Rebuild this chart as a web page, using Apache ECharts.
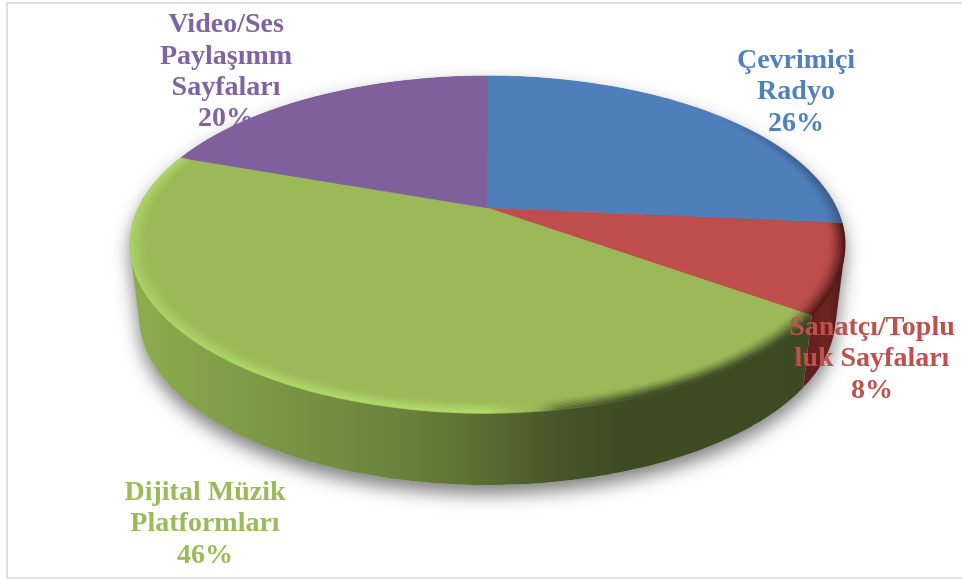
<!DOCTYPE html>
<html><head><meta charset="utf-8">
<style>html,body{margin:0;padding:0;background:#fff}#c{width:962px;height:580px}</style>
<script src="https://cdn.jsdelivr.net/npm/echarts@6/dist/echarts.min.js"></script>
</head><body><div id="c"></div>
<script>
const categories = ['Çevrimiçi Radyo', 'Sanatçı/Topluluk Sayfaları', 'Dijital Müzik Platformları', 'Video/Ses Paylaşımm Sayfaları'];
const values = [26.49, 8.45, 45.5, 19.56];
const labelLines = [['Çevrimiçi', 'Radyo'], ['Sanatçı/Toplu', 'luk Sayfaları'], ['Dijital Müzik', 'Platformları'], ['Video/Ses', 'Paylaşımm', 'Sayfaları']];
const topColors = ['#4f7fba', '#bd4e4b', '#9bb958', '#7f609d'];
const textColors = ['#4f81bd', '#c0504d', '#9bbb59', '#8064a2'];
const labelCenters = [[796, 92], [872, 359], [205, 524], [226, 72]];

// projection of the tilted disc
const CX = 487.5, P = 0.2166;
const TOP = {ay: 208, a: 349, b: 160.6};
const BOTTOM = {ay: 280, a: 340, b: 160.6};
function proj(deg, r, disc) {
  const t = deg * Math.PI / 180, u = r * Math.sin(t), v = r * Math.cos(t), w = 1 + P * v;
  return [CX + disc.a * u / w, disc.ay - disc.b * v / w];
}
function arc(d0, d1, r, disc) {
  const pts = [], n = Math.max(2, Math.ceil(Math.abs(d1 - d0)));
  for (let i = 0; i <= n; i++) pts.push(proj(d0 + (d1 - d0) * i / n, r, disc));
  return pts;
}
function hull(points) {
  const p = points.slice().sort((a, b) => a[0] - b[0] || a[1] - b[1]);
  const cross = (o, a, b) => (a[0] - o[0]) * (b[1] - o[1]) - (a[1] - o[1]) * (b[0] - o[0]);
  const half = list => {
    const h = [];
    for (const q of list) {
      while (h.length > 1 && cross(h[h.length - 2], h[h.length - 1], q) <= 0) h.pop();
      h.push(q);
    }
    h.pop();
    return h;
  };
  return half(p).concat(half(p.slice().reverse()));
}
function hGrad(x0, x1, stops) {
  return new echarts.graphic.LinearGradient(x0, 0, x1, 0, stops.map(s => ({offset: s[0], color: s[1]})), true);
}
const sideFill = [
  () => '#3a5f8c',
  () => hGrad(800, 845, [[0, '#5c1d1b'], [0.6, '#6e2422'], [1, '#4a1513']]),
  () => hGrad(134, 810, [[0, '#8dac4e'], [0.17, '#7d9a46'], [0.38, '#6b843d'], [0.5, '#5c7133'], [0.63, '#465528'], [0.72, '#3f4c23'], [1, '#3d4922']]),
  () => '#5f4878'
];
const rimStops = [
  [[0, 'rgba(40,70,110,0)'], [0.82, 'rgba(40,70,110,0)'], [1, 'rgba(40,60,90,0.45)']],
  [[0, 'rgba(90,25,25,0.1)'], [0.6, 'rgba(90,25,25,0.55)'], [1, 'rgba(70,20,20,0.9)']],
  [[0, 'rgba(175,218,105,0.7)'], [0.5, 'rgba(180,222,108,0.8)'], [0.56, 'rgba(160,190,90,0.25)'], [0.6, 'rgba(61,73,34,0.45)'], [0.72, 'rgba(61,73,34,0.9)'], [1, 'rgba(61,73,34,0.9)']],
  [[0, 'rgba(0,0,0,0)'], [1, 'rgba(0,0,0,0)']]
];
const total = values.reduce((a, b) => a + b, 0);

function renderItem(params, api) {
  const i = params.dataIndex;
  const before = values.slice(0, i).reduce((a, b) => a + b, 0);
  const d0 = before / total * 360, d1 = d0 + api.value(0) / total * 360;
  const children = [];
  if (i === 0) {
    children.push({type: 'polygon', z2: 0, shape: {points: hull(arc(0, 360, 1, TOP).concat(arc(0, 360, 1, BOTTOM)))},
      style: {fill: '#ccc', shadowBlur: 18, shadowOffsetY: 9, shadowOffsetX: 0, shadowColor: 'rgba(0,0,0,0.5)'}});
  }
  const topArc = arc(d0, d1, 1, TOP), botArc = arc(d0, d1, 1, BOTTOM);
  children.push({type: 'polygon', z2: 1 + i, shape: {points: hull(topArc.concat(botArc))}, style: {fill: sideFill[i]()}});
  children.push({type: 'polygon', z2: 6, shape: {points: [proj(0, 0, TOP)].concat(topArc)}, style: {fill: topColors[i], stroke: topColors[i], lineWidth: 0.5}});
  const steps = 9;
  for (let k = 0; k < steps; k++) {
    const r = 1 - k * 0.0052 - 0.002;
    children.push({type: 'polyline', z2: 7, shape: {points: arc(d0, d1, r, TOP)},
      style: {fill: null, lineWidth: 2.4, opacity: Math.pow(1 - k / steps, 1.7),
        stroke: new echarts.graphic.LinearGradient(130, 0, 845, 0, rimStops[i].map(s => ({offset: s[0], color: s[1]})), true)}});
  }
  const pct = Math.round(api.value(0) / total * 100) + '%';
  children.push({type: 'text', z2: 20, x: labelCenters[i][0], y: labelCenters[i][1],
    style: {text: labelLines[i].concat(pct).join('\n'), fill: textColors[i],
      font: 'bold 28px "Liberation Serif"', lineHeight: 31.4, align: 'center', verticalAlign: 'middle'}});
  return {type: 'group', children};
}

const chart = echarts.init(document.getElementById('c'), null, {renderer: 'canvas'});
chart.setOption({
  animation: false,
  backgroundColor: '#fff',
  graphic: [{type: 'rect', z: -1, shape: {x: 7, y: 3, width: 980, height: 575}, style: {fill: '#fff', stroke: '#d9d9d9', lineWidth: 1.6}}],
  series: [{type: 'custom', coordinateSystem: 'none', renderItem,
    data: values.map((v, i) => ({name: categories[i], value: [v]})), silent: true}]
});
</script></body></html>
